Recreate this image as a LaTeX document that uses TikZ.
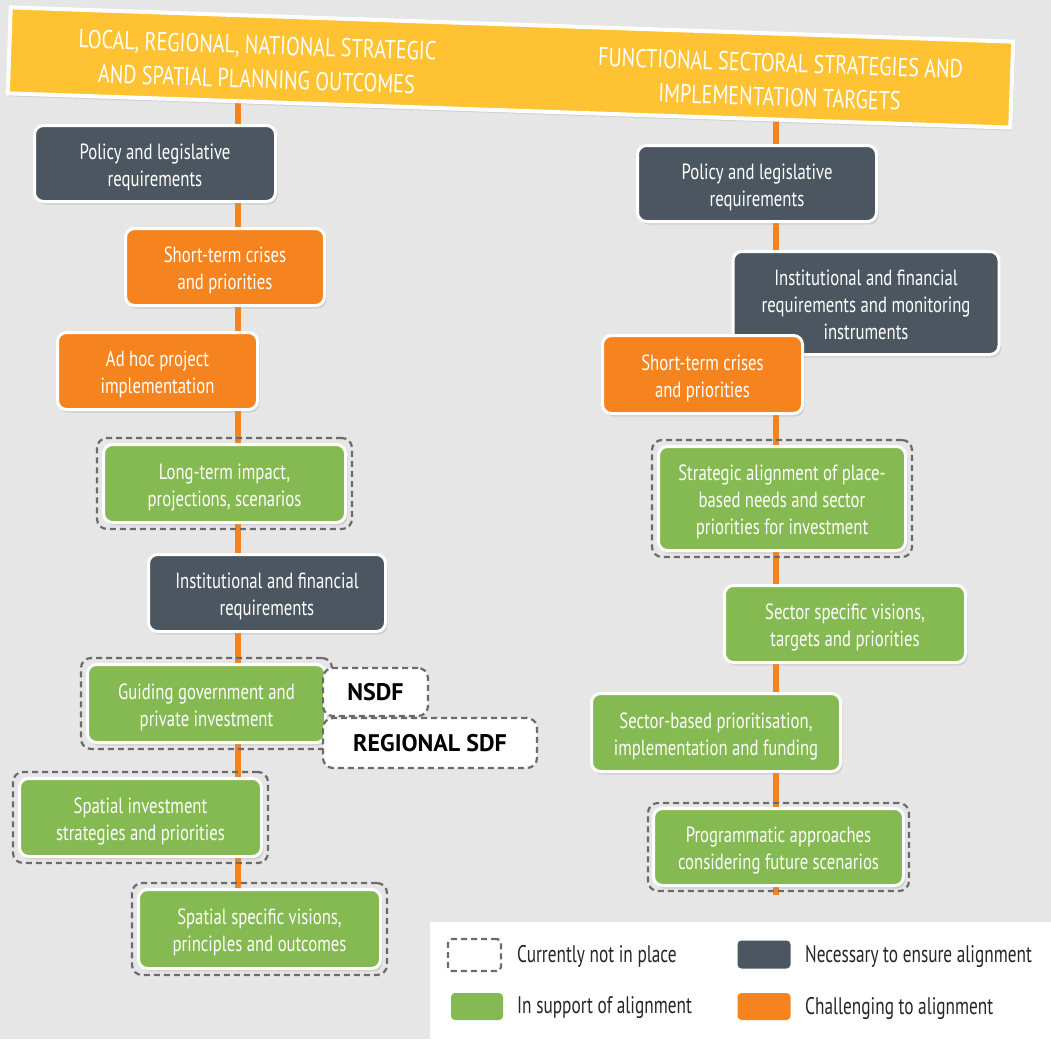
\documentclass[tikz,border=0pt]{standalone}
\usepackage{fontspec}
\setmainfont{PT Sans}[FakeStretch=0.76]
\newfontfamily\titlefont{PT Sans}[FakeStretch=0.775]
\newfontfamily\legfont{PT Sans}[FakeStretch=0.72]
\newfontfamily\tagfont{PT Sans}
\usetikzlibrary{shadows,fit}
\definecolor{bgc}{HTML}{E6E6E6}
\definecolor{cdark}{HTML}{4B5660}
\definecolor{corange}{HTML}{F5841F}
\definecolor{cgreen}{HTML}{84BA51}
\definecolor{cyellow}{HTML}{FEC233}
\definecolor{cdash}{HTML}{6B6B6B}
\newcommand\boxtxt[1]{\raisebox{-4pt}[\height][\depth]{\begin{tabular}{@{}c@{}}#1\end{tabular}}}
\begin{document}
\begin{tikzpicture}[x=1pt,y=-1pt,
  box/.style={rounded corners=9pt, draw=white, line width=3pt, text=white,
    inner sep=0pt, font=\fontsize{22}{27}\selectfont,
    drop shadow={shadow xshift=2pt, shadow yshift=-3pt, opacity=0.22}},
  darkbox/.style={box, fill=cdark},
  orangebox/.style={box, fill=corange},
  greenbox/.style={box, fill=cgreen},
  notin/.style={draw=cdash, dash pattern=on 6pt off 4pt, line width=2.2pt,
    rounded corners=10pt, inner sep=5pt},
  tagbox/.style={notin, fill=white, inner sep=0pt, text=black,
    font=\tagfont\bfseries\fontsize{24}{28}\selectfont},
  spine/.style={draw=corange, line width=6pt},
  banner/.style={fill=cyellow, draw=white, line width=4pt, inner sep=0pt,
    drop shadow={shadow xshift=2pt, shadow yshift=-3pt, opacity=0.22}},
  titletext/.style={text=white, align=center, inner sep=0pt,
    font=\titlefont\fontsize{26}{34}\selectfont},
  swatch/.style={rounded corners=4pt, inner sep=0pt},
  legtext/.style={anchor=west, inner sep=0pt, text=black!85,
    font=\legfont\fontsize{24}{28}\selectfont},
]
\useasboundingbox[fill=bgc] (0,0) rectangle (1051,1039);

% spines
\coordinate (Ltop) at (238,92);
\coordinate (Lbot) at (238,900);
\coordinate (Rtop) at (776,120);
\coordinate (Rbot) at (776,895);
\draw[spine] (Ltop) -- (Lbot);
\draw[spine] (Rtop) -- (Rbot);

% banner
\node[banner, minimum width=1003pt, minimum height=86pt, rotate=-1.96] (banner) at (510.5,67.5) {};
\node[titletext, rotate=-1.96] (t1) at (257,62) {LOCAL, REGIONAL, NATIONAL STRATEGIC\\AND SPATIAL PLANNING OUTCOMES};
\node[titletext, rotate=-1.96] (t2) at (780,80) {FUNCTIONAL SECTORAL STRATEGIES AND\\IMPLEMENTATION TARGETS};

% left column
\node[darkbox, minimum width=241pt, minimum height=76pt] (L1) at (155,163.5) {\boxtxt{Policy and legislative\\requirements}};
\node[orangebox, minimum width=199pt, minimum height=77pt] (L2) at (225,267) {\boxtxt{Short-term crises\\and priorities}};
\node[orangebox, minimum width=200pt, minimum height=77pt] (L3) at (157.5,371) {\boxtxt{Ad hoc project\\implementation}};
\node[greenbox, minimum width=242pt, minimum height=78pt] (L4) at (224.5,483.5) {\boxtxt{Long-term impact,\\projections, scenarios}};
\node[darkbox, minimum width=237pt, minimum height=77pt] (L5) at (267,593) {\boxtxt{Institutional and financial\\requirements}};
\node[greenbox, minimum width=238pt, minimum height=78pt] (L6) at (206.5,703.5) {\boxtxt{Guiding government and\\private investment}};
\node[greenbox, minimum width=242pt, minimum height=78pt] (L7) at (140.5,817.5) {\boxtxt{Spatial investment\\strategies and priorities}};
\node[greenbox, minimum width=242pt, minimum height=79pt] (L8) at (259.5,929) {\boxtxt{Spatial specific visions,\\principles and outcomes}};

\node[notin, fit=(L4)] (D4) {};
\node[notin, fit=(L6)] (D6) {};
\node[notin, fit=(L7)] (D7) {};
\node[notin, fit=(L8)] (D8) {};

\node[tagbox, minimum width=105pt, minimum height=48pt] (nsdf) at (375.5,692) {NSDF};
\node[tagbox, minimum width=214pt, minimum height=50pt] (rsdf) at (430,743) {REGIONAL SDF};

% right column
\node[darkbox, minimum width=239pt, minimum height=76pt] (R1) at (757,183.5) {\boxtxt{Policy and legislative\\requirements}};
\node[darkbox, minimum width=266pt, minimum height=103pt] (R2) at (866,303) {\boxtxt{Institutional and financial\\requirements and monitoring\\instruments}};
\node[orangebox, minimum width=200pt, minimum height=78pt] (R3) at (702.5,374.5) {\boxtxt{Short-term crises\\and priorities}};
\node[greenbox, minimum width=247pt, minimum height=104pt] (R4) at (782,498.5) {\boxtxt{Strategic alignment of place-\\based needs and sector\\priorities for investment}};
\node[greenbox, minimum width=241pt, minimum height=77pt] (R5) at (845,624) {\boxtxt{Sector specific visions,\\targets and priorities}};
\node[greenbox, minimum width=249pt, minimum height=78pt] (R6) at (716,732.5) {\boxtxt{Sector-based prioritisation,\\implementation and funding}};
\node[greenbox, minimum width=250pt, minimum height=77pt] (R7) at (778.5,847) {\boxtxt{Programmatic approaches\\considering future scenarios}};

\node[notin, fit=(R4)] (DR4) {};
\node[notin, fit=(R7), inner sep=4pt] (DR7) {};

% legend
\node[fill=white, minimum width=621pt, minimum height=117pt, inner sep=0pt, anchor=north west] (legend) at (430,922) {};
\node[swatch, minimum width=53pt, minimum height=32pt, draw=cdash, dash pattern=on 6pt off 4pt, line width=2.2pt] (s1) at (474.5,955) {};
\node[swatch, minimum width=53pt, minimum height=28pt, fill=cdark] (s2) at (764,954.5) {};
\node[swatch, minimum width=52pt, minimum height=27pt, fill=cgreen] (s3) at (477,1006.5) {};
\node[swatch, minimum width=53pt, minimum height=27pt, fill=corange] (s4) at (764,1006.5) {};
\node[legtext] (l1) at (517,956) {Currently not in place};
\node[legtext] (l2) at (805,956) {Necessary to ensure alignment};
\node[legtext] (l3) at (517,1008) {In support of alignment};
\node[legtext] (l4) at (805,1008) {Challenging to alignment};
\end{tikzpicture}
\end{document}
